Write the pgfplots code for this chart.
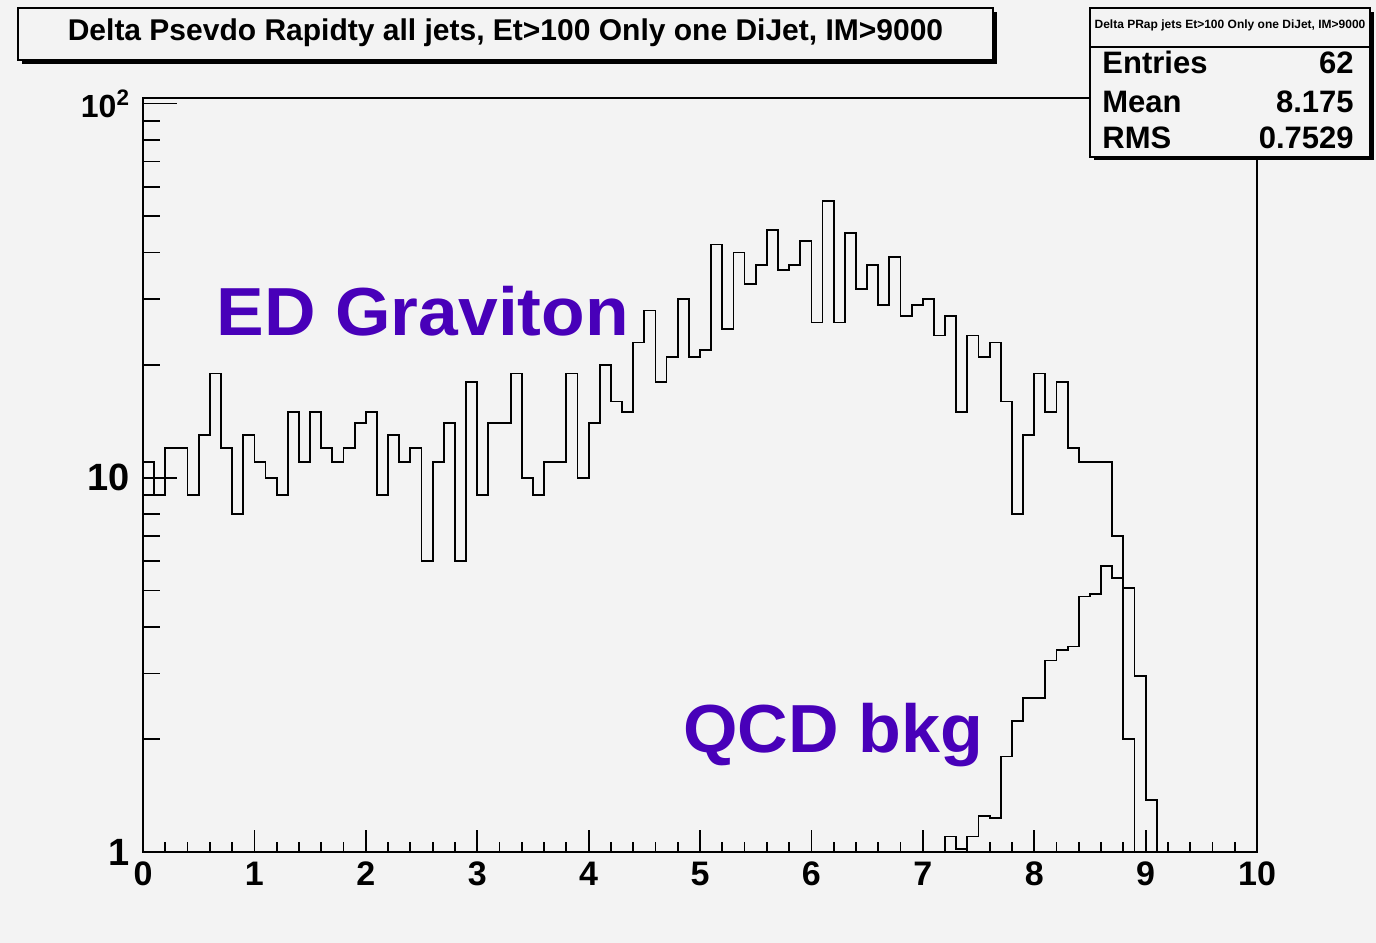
\documentclass[border=0pt]{standalone}
\usepackage{fontspec}
\setmainfont{Liberation Sans}
\usepackage{pgfplots}
\pgfplotsset{compat=1.18}
\definecolor{rootbg}{RGB}{243,243,243}
\definecolor{labelblue}{RGB}{72,0,185}

\begin{document}
\begin{tikzpicture}
\useasboundingbox (0,0) rectangle (688bp,-471.5bp);
\fill[rootbg] (0,0) rectangle (688bp,-471.5bp);

% log y axis, both histograms
\begin{axis}[
  at={(71.5bp,-426bp)}, anchor=south west,
  width=557bp, height=377bp, scale only axis,
  xmin=0, xmax=10, ymin=1, ymax=103.5, ymode=log,
  axis line style={line width=0.9bp},
  xtick=\empty,
  ytick={1,10,100}, yticklabels={1,10,{\fontsize{16bp}{16bp}\selectfont 10\textsuperscript{2}}},
  minor ytick={2,3,4,5,6,7,8,9,20,30,40,50,60,70,80,90},
  ytick pos=left, tick align=inside,
  major tick length=17bp, minor tick length=8.5bp,
  tick style={black, line width=0.9bp},
  yticklabel style={font=\bfseries\fontsize{19bp}{19bp}\selectfont, xshift=-3bp},
]
% ED graviton, bins of 0.1 from 0 to 8.9
\addplot[const plot, black, line width=0.9bp] coordinates {
  (0.0,11) (0.1,9) (0.2,12) (0.3,12) (0.4,9) (0.5,13) (0.6,19) (0.7,12) (0.8,8) (0.9,13)
  (1.0,11) (1.1,10) (1.2,9) (1.3,15) (1.4,11) (1.5,15) (1.6,12) (1.7,11) (1.8,12) (1.9,14)
  (2.0,15) (2.1,9) (2.2,13) (2.3,11) (2.4,12) (2.5,6) (2.6,11) (2.7,14) (2.8,6) (2.9,18)
  (3.0,9) (3.1,14) (3.2,14) (3.3,19) (3.4,10) (3.5,9) (3.6,11) (3.7,11) (3.8,19) (3.9,10)
  (4.0,14) (4.1,20) (4.2,16) (4.3,15) (4.4,23) (4.5,28) (4.6,18) (4.7,21) (4.8,30) (4.9,21)
  (5.0,22) (5.1,42) (5.2,25) (5.3,40) (5.4,33) (5.5,37) (5.6,46) (5.7,36) (5.8,37) (5.9,43)
  (6.0,26) (6.1,55) (6.2,26) (6.3,45) (6.4,32) (6.5,37) (6.6,29) (6.7,39) (6.8,27) (6.9,29)
  (7.0,30) (7.1,24) (7.2,27) (7.3,15) (7.4,24) (7.5,21) (7.6,23) (7.7,16) (7.8,8) (7.9,13)
  (8.0,19) (8.1,15) (8.2,18) (8.3,12) (8.4,11) (8.5,11) (8.6,11) (8.7,7) (8.8,2) (8.9,1)
};
% QCD background
\addplot[const plot, black, line width=0.9bp] coordinates {
  (7.2,1) (7.2,1.10) (7.3,1.02) (7.4,1.10) (7.5,1.25) (7.6,1.235) (7.7,1.80) (7.8,2.24) (7.9,2.58)
  (8.0,2.58) (8.1,3.25) (8.2,3.47) (8.3,3.54) (8.4,4.82) (8.5,4.90) (8.6,5.82) (8.7,5.39) (8.8,5.07)
  (8.9,2.96) (9.0,1.38) (9.1,1)
};
\end{axis}

% x ticks only
\begin{axis}[
  at={(71.5bp,-426bp)}, anchor=south west,
  width=557bp, height=377bp, scale only axis,
  xmin=0, xmax=10, ymin=0, ymax=1,
  axis line style={line width=0.9bp},
  ytick=\empty,
  xtick={0,1,2,3,4,5,6,7,8,9,10},
  xticklabels={0,1,2,3,4,5,6,7,8,9,10},
  minor x tick num=4,
  xtick pos=bottom, tick align=inside,
  major tick length=11bp, minor tick length=5bp,
  tick style={black, line width=0.9bp},
  xticklabel style={font=\bfseries\fontsize{17bp}{17bp}\selectfont, yshift=-1.5bp},
]
\end{axis}

% labels
\node[anchor=base west, inner sep=0, text=labelblue, font=\bfseries\fontsize{34bp}{34bp}\selectfont]
  at (108bp,-167.5bp) {\scalebox{1.05}[1]{ED Graviton}};
\node[anchor=base west, inner sep=0, text=labelblue, font=\bfseries\fontsize{34bp}{34bp}\selectfont]
  at (341.5bp,-376bp) {\scalebox{1.03}[1]{QCD bkg}};

% title box
\fill[black] (11bp,-6bp) rectangle (498.5bp,-32bp);
\filldraw[fill=rootbg, draw=black, line width=0.8bp] (9bp,-4bp) rectangle (496.5bp,-30bp);
\node[font=\bfseries\fontsize{15bp}{15bp}\selectfont, inner sep=0] at (252.75bp,-16.5bp)
  {Delta Psevdo Rapidty all jets, Et>100 Only one DiJet, IM>9000};

% stats box
\fill[black] (547bp,-6bp) rectangle (687bp,-80bp);
\filldraw[fill=rootbg, draw=black, line width=0.8bp] (545bp,-4bp) rectangle (685bp,-78.5bp);
\draw[line width=0.8bp] (545bp,-23.5bp) -- (685bp,-23.5bp);
\node[font=\bfseries\fontsize{6bp}{6bp}\selectfont, inner sep=0] at (615bp,-12.5bp)
  {Delta PRap jets Et>100 Only one DiJet, IM>9000};
\begin{scope}[every node/.style={inner sep=0, font=\bfseries\fontsize{15.5bp}{15.5bp}\selectfont}]
\node[anchor=base west] at (551bp,-36.5bp) {Entries};
\node[anchor=base east] at (677bp,-36.5bp) {62};
\node[anchor=base west] at (551bp,-56bp) {Mean};
\node[anchor=base east] at (677bp,-56bp) {8.175};
\node[anchor=base west] at (551bp,-74bp) {RMS};
\node[anchor=base east] at (677bp,-74bp) {0.7529};
\end{scope}
\end{tikzpicture}
\end{document}
